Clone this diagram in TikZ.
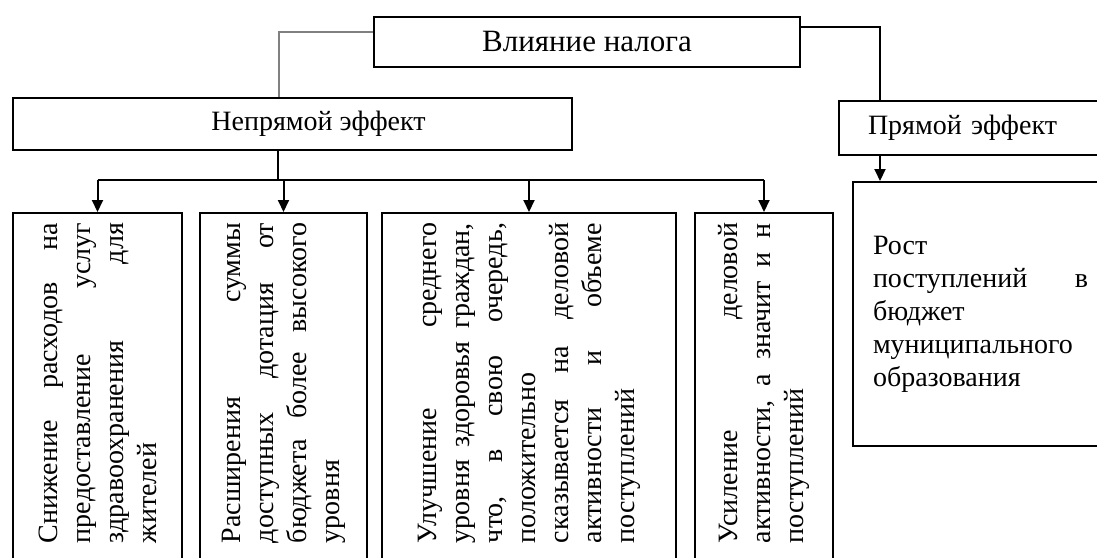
\documentclass[tikz,border=0pt]{standalone}
\usepackage{fontspec}
\setmainfont{Liberation Serif}
\usepackage{graphicx}
\usetikzlibrary{positioning,arrows.meta}

\newcommand{\Vtext}[1]{\rotatebox{90}{\parbox{160pt}{#1}}}

\begin{document}
\begin{tikzpicture}[x=1pt, y=-1pt, >={Triangle[length=6pt,width=5.5pt]}, line width=1pt,
	font=\fontsize{14pt}{16.5pt}\selectfont,
	box/.style={draw, inner sep=0pt, minimum height=26pt},
	vbox/.style={draw, inner xsep=0pt, inner ysep=5pt, text depth=25pt, anchor=north},
	link/.style={line width=1pt},
	side/.style={draw=gray, line width=0.6pt}]

	\useasboundingbox (0,0) rectangle (548.5,278.5);

	% upper level
	\node[box, minimum width=213pt, minimum height=25pt, anchor=north west, font=\fontsize{15.5pt}{18pt}\selectfont] (infl) at (186.5,8) {Влияние налога};
	\node[box, minimum width=279.5pt, anchor=north west] (indirect) at (6,48.5) {\hspace*{26pt}Непрямой эффект};
	\node[box, minimum height=27pt, text width=120pt, inner xsep=14.5pt, align=left, anchor=north west] (direct) at (419,50) {Прямой эффект};
	\node[box, minimum height=132pt, text width=107.5pt, inner xsep=10pt, anchor=north west] (growth) at (426,90.5)
		{Рост\\ поступлений\hfill в\\ бюджет\\ муниципального\\ образования};

	% indirect effects
	\node[vbox, minimum width=84.5pt] (b1) at (48.75,106)
		{\Vtext{Снижение\hfill расходов\hfill на\\ предоставление\hfill услуг\\ здравоохранения\hfill для\\ жителей}};
	\node[vbox, minimum width=83.5pt, right=8pt of b1.north east, anchor=north west] (b2)
		{\Vtext{Расширения\hfill суммы\\ доступных\hfill дотация\hfill от\\ бюджета\hfill более\hfill высокого\\ уровня}};
	\node[vbox, minimum width=147pt, right=6.5pt of b2.north east, anchor=north west] (b3)
		{\Vtext{Улучшение\hfill среднего\\ уровня\hfill здоровья\hfill граждан,\\ что,\hfill в\hfill свою\hfill очередь,\\ положительно\\ сказывается\hfill на\hfill деловой\\ активности\hfill и\hfill объеме\\ поступлений}};
	\node[vbox, minimum width=69pt, right=8.5pt of b3.north east, anchor=north west] (b4)
		{\Vtext{Усиление\hfill деловой\\ активности,\hfill а\hfill значит\hfill и\hfill н\\ поступлений}};

	% connectors
	\draw[side] ([yshift=5pt]infl.west) -| ([xshift=-6.75pt]indirect.north);
	\draw[link] ([yshift=7.5pt]infl.east) -| ([xshift=21pt]direct.north west);
	\coordinate (bus) at (139,90);
	\draw[link] (bus) -- (bus |- indirect.south);
	\draw[link] (b1.north |- bus) -- (b4.north |- bus);
	\foreach \b in {b1,b2,b3,b4}
		\draw[link,->] (\b.north |- bus) -- (\b.north);
	\draw[link,->] ([xshift=21pt]direct.south west) -- ([xshift=21pt]direct.south west |- growth.north);
\end{tikzpicture}
\end{document}
